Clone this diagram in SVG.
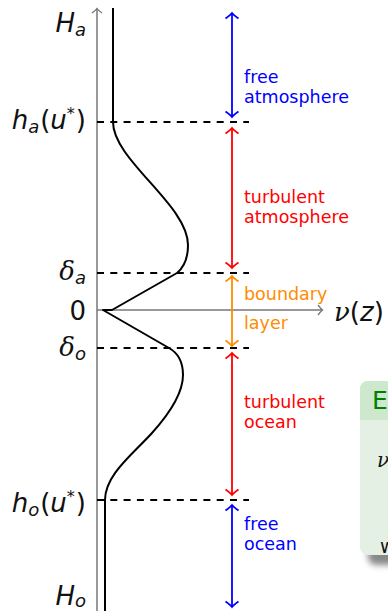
<svg xmlns="http://www.w3.org/2000/svg" width="388" height="611" viewBox="0 0 388 611">
<style>
.axis{stroke:#777;stroke-width:1.5;fill:none}
.curve{stroke:#000;stroke-width:2;fill:none;stroke-linejoin:round}
.dash{stroke:#000;stroke-width:2;stroke-dasharray:7 6.3;fill:none}
.lbl{font-family:"DejaVu Sans",sans-serif;font-size:17.5px}
.math{font-family:"DejaVu Sans",sans-serif;font-style:italic;font-size:26px;fill:#111}
.up{font-style:normal}
.sub{font-size:18px}
.greek{font-family:"DejaVu Serif",serif;font-style:italic}
</style>
<defs>
<marker id="ag" markerUnits="userSpaceOnUse" markerWidth="14" markerHeight="14" viewBox="-7 -7 14 14" refX="0" refY="0" orient="auto-start-reverse"><path d="M-4.5,-5 Q-1.5,-1 0,0 Q-1.5,1 -4.5,5" fill="none" stroke="#777" stroke-width="1.3"/></marker>
<marker id="ab" markerUnits="userSpaceOnUse" markerWidth="16" markerHeight="16" viewBox="-8 -8 16 16" refX="0" refY="0" orient="auto-start-reverse"><path d="M-5.5,-6.5 Q-2,-1.5 0,0 Q-2,1.5 -5.5,6.5" fill="none" stroke="#0000ff" stroke-width="1.8"/></marker>
<marker id="ar" markerUnits="userSpaceOnUse" markerWidth="16" markerHeight="16" viewBox="-8 -8 16 16" refX="0" refY="0" orient="auto-start-reverse"><path d="M-5.5,-6.5 Q-2,-1.5 0,0 Q-2,1.5 -5.5,6.5" fill="none" stroke="#ff0000" stroke-width="1.8"/></marker>
<marker id="ao" markerUnits="userSpaceOnUse" markerWidth="16" markerHeight="16" viewBox="-8 -8 16 16" refX="0" refY="0" orient="auto-start-reverse"><path d="M-5.5,-6.5 Q-2,-1.5 0,0 Q-2,1.5 -5.5,6.5" fill="none" stroke="#ff8c00" stroke-width="1.8"/></marker>
<filter id="sh" x="-20%" y="-20%" width="140%" height="140%"><feGaussianBlur stdDeviation="3"/></filter>
</defs>

<g id="block">
<rect x="368" y="389" width="120" height="176" rx="8" fill="#888" filter="url(#sh)"/>
<rect x="360" y="381" width="120" height="174" rx="8" fill="#e5f0e5"/>
<path d="M360,420 V389 A8,8 0 0 1 368,381 H480 V420 Z" fill="#cde8cd"/>
<text x="372" y="409" font-family="DejaVu Sans,sans-serif" font-size="25" fill="#008000">E</text>
<text x="377" y="467" font-family="DejaVu Serif,serif" font-style="italic" font-size="20" fill="#111">ν</text>
<text x="380" y="553" font-family="DejaVu Sans,sans-serif" font-size="19" fill="#111">w</text>
</g>

<g id="axes">
<line class="axis" x1="97" y1="611" x2="97" y2="8.5" marker-end="url(#ag)"/>
<line class="axis" x1="97" y1="310" x2="322.5" y2="310" marker-end="url(#ag)"/>
</g>

<g id="levels">
<line class="dash" x1="97" y1="122" x2="249" y2="122"/>
<line class="dash" x1="97" y1="273" x2="249" y2="273"/>
<line class="dash" x1="97" y1="348" x2="249" y2="348"/>
<line class="dash" x1="97" y1="500" x2="249" y2="500"/>
</g>

<g id="profile">
<path class="curve" d="M113,8 L113,122 C113,160 188,205 188,245 C188,260 183,268 177,273 L112,310 L103,310 L169,348 C178,353 183,362 183,375 C183,395 165.5,418 152,433 C132,455 105,475 105,500 L105,611"/>
</g>

<g id="connectors">
<line x1="232" y1="13" x2="232" y2="117" stroke="#0000ff" stroke-width="1.8" marker-start="url(#ab)" marker-end="url(#ab)"/>
<line x1="232" y1="128" x2="232" y2="268" stroke="#ff0000" stroke-width="1.8" marker-start="url(#ar)" marker-end="url(#ar)"/>
<line x1="232" y1="276" x2="232" y2="346" stroke="#ff8c00" stroke-width="1.8" marker-start="url(#ao)" marker-end="url(#ao)"/>
<line x1="232" y1="353" x2="232" y2="495" stroke="#ff0000" stroke-width="1.8" marker-start="url(#ar)" marker-end="url(#ar)"/>
<line x1="232" y1="505" x2="232" y2="607" stroke="#0000ff" stroke-width="1.8" marker-start="url(#ab)" marker-end="url(#ab)"/>
</g>

<g id="region-labels">
<text class="lbl" x="244" y="83" fill="#0000ff">free</text>
<text class="lbl" x="244" y="103" fill="#0000ff">atmosphere</text>
<text class="lbl" x="244" y="203" fill="#ff0000">turbulent</text>
<text class="lbl" x="244" y="223" fill="#ff0000">atmosphere</text>
<text class="lbl" x="244" y="300" fill="#ff8c00">boundary</text>
<text class="lbl" x="244" y="329" fill="#ff8c00">layer</text>
<text class="lbl" x="244" y="408" fill="#ff0000">turbulent</text>
<text class="lbl" x="244" y="428" fill="#ff0000">ocean</text>
<text class="lbl" x="244" y="530" fill="#0000ff">free</text>
<text class="lbl" x="244" y="550" fill="#0000ff">ocean</text>
</g>

<g id="axis-labels">
<text class="math" x="86" y="32" text-anchor="end">H<tspan class="sub" dy="4">a</tspan></text>
<text class="math" x="86" y="129" text-anchor="end">h<tspan class="sub" dy="4">a</tspan><tspan class="up" dx="1" dy="-4">(</tspan>u<tspan class="up" font-size="16" dy="-10">*</tspan><tspan class="up" dx="1" dy="10">)</tspan></text>
<text class="math" x="86" y="280" text-anchor="end"><tspan class="greek">δ</tspan><tspan class="sub" dy="4">a</tspan></text>
<text class="math up" x="86" y="320" text-anchor="end">0</text>
<text class="math" x="86" y="356" text-anchor="end"><tspan class="greek">δ</tspan><tspan class="sub" dy="4">o</tspan></text>
<text class="math" x="86" y="512" text-anchor="end">h<tspan class="sub" dy="4">o</tspan><tspan class="up" dx="1" dy="-4">(</tspan>u<tspan class="up" font-size="16" dy="-10">*</tspan><tspan class="up" dx="1" dy="10">)</tspan></text>
<text class="math" x="86" y="605" text-anchor="end">H<tspan class="sub" dy="2">o</tspan></text>
<text class="math" x="334" y="321"><tspan class="greek">ν</tspan><tspan class="up">(</tspan>z<tspan class="up">)</tspan></text>
</g>
</svg>
